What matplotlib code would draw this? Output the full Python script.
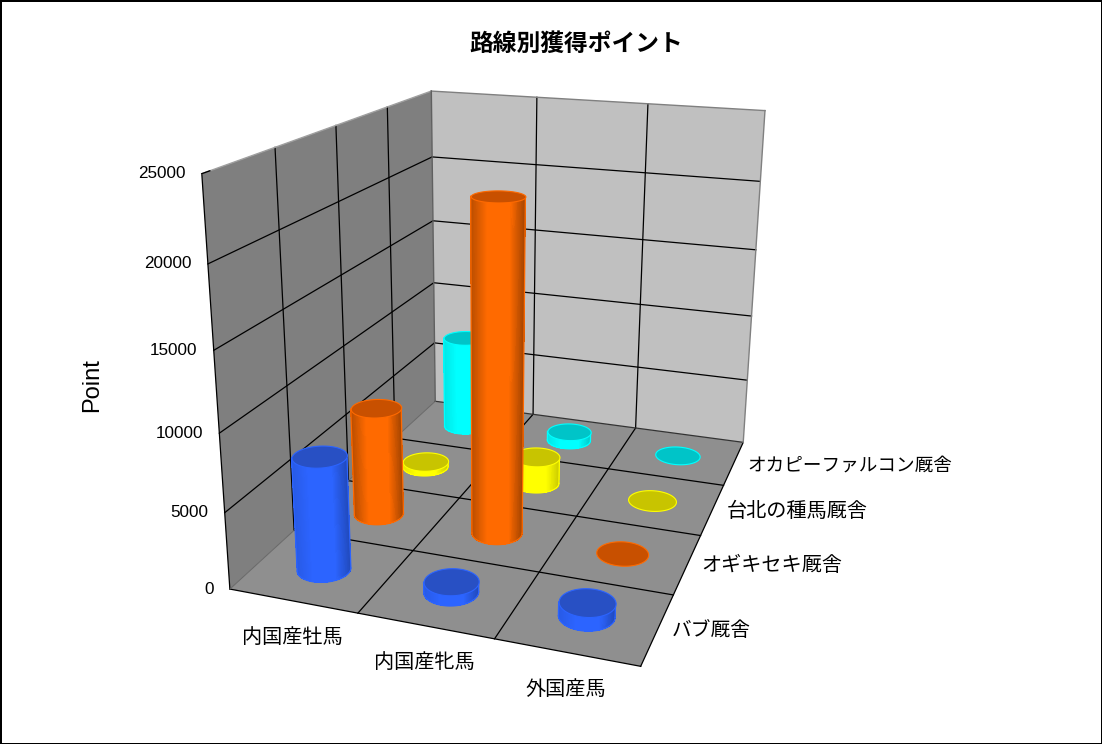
import numpy as np
import matplotlib
matplotlib.use('Agg')
import matplotlib.pyplot as plt
from mpl_toolkits.mplot3d import proj3d
from mpl_toolkits.mplot3d.art3d import Poly3DCollection

jp_font = ['Noto Sans CJK JP', 'DejaVu Sans']

title = '路線別獲得ポイント'
horse_types = ['内国産牡馬', '内国産牝馬', '外国産馬']
stables = ['バブ厩舎', 'オギキセキ厩舎', '台北の種馬厩舎', 'オカピーファルコン厩舎']
stable_sizes = [14.2, 14.5, 14.5, 13.4]
z_ticks = [0, 5000, 10000, 15000, 20000, 25000]

bab = [7500, 700, 900]
ogikiseki = [7550, 22200, 0]
taipei = [400, 2000, 0]
okapi = [7200, 700, 0]
values = [bab, ogikiseki, taipei, okapi]

side_colors = ['#2c64ff', '#ff6a00', '#ffff00', '#00ffff']
top_colors = ['#2850c4', '#c85000', '#c8c400', '#00c4c8']
edge_dark = [(0.9, 0.72), (0.72, 0.62), (0.9, 0.78), (0.9, 0.78)]

W, H = 1102, 744
fig = plt.figure(figsize=(W / 100, H / 100), dpi=100, facecolor='white', edgecolor='black', linewidth=2)
# camera values were fitted to the grid corners of the picture
ax = fig.add_axes([147.49 / W, 41.99 / H, 722.70 / W, 722.70 / H], projection='3d', computed_zorder=False)
ax.patch.set_visible(False)
ax.set_xlim(0, 3, view_margin=0)
ax.set_ylim(0, 4, view_margin=0)
ax.set_zlim(0, 25000, view_margin=0)
ax.view_init(elev=18.4038, azim=-71.4703, roll=-0.4691)
ax.set_proj_type('persp', focal_length=0.3443)
ax.set_box_aspect((1, 1.296, 0.9997))
ax.set_axis_off()
M = ax.get_proj()

zo = 1
for verts, color in [([(0, 0, 0), (0, 4, 0), (0, 4, 25000), (0, 0, 25000)], '#7f7f7f'),
                     ([(0, 4, 0), (3, 4, 0), (3, 4, 25000), (0, 4, 25000)], '#c0c0c0'),
                     ([(0, 0, 0), (3, 0, 0), (3, 4, 0), (0, 4, 0)], '#8f8f8f')]:
    ax.add_collection3d(Poly3DCollection([verts], facecolors=color, edgecolors='none', zorder=zo))
    zo += 1


def gridline(a, b, color='black', lw=0.9):
    ax.plot([a[0], b[0]], [a[1], b[1]], [a[2], b[2]], color=color, lw=lw, zorder=4)


for z in z_ticks[1:-1]:
    gridline((0, 0, z), (0, 4, z))
    gridline((0, 4, z), (3, 4, z))
for i in range(1, 3):
    gridline((i, 0, 0), (i, 4, 0))
    gridline((i, 4, 0), (i, 4, 25000))
for j in range(1, 4):
    gridline((0, j, 0), (3, j, 0))
    gridline((0, j, 0), (0, j, 25000))
gridline((0, 0, 0), (3, 0, 0))
gridline((3, 0, 0), (3, 4, 0))
gridline((0, 0, 0), (0, 0, 25000))
gridline((0, 0, 0), (0, 4, 0), '#666666', 0.7)
gridline((0, 4, 0), (3, 4, 0), '#333333', 0.9)
gridline((0, 0, 25000), (0, 4, 25000), '#a0a0a0', 1.0)
gridline((0, 4, 25000), (3, 4, 25000), '#808080', 1.0)
gridline((3, 4, 0), (3, 4, 25000), '#808080', 1.0)
gridline((0, 4, 0), (0, 4, 25000), '#606060', 1.0)
gridline((0, 0, 25000), (0, 0.1, 25000), 'black', 1.0)

# cylinders, far row first
rx = 0.195
ry = rx * (1 / 3) / (1.296 / 4)
theta = np.linspace(0, 2 * np.pi, 145)[:-1]
zo = 5
for j in reversed(range(4)):
    for i in range(3):
        val = values[j][i]
        X = i + 0.5 + rx * np.cos(theta)
        Y = j + 0.5 + ry * np.sin(theta)
        if val > 0:
            # visible half of the side, between the two screen extremes of the ring
            px, py, _ = proj3d.proj_transform(X, Y, 0 * X, M)
            a, b = px.argmin(), px.argmax()
            idx = np.arange(a, a + (b - a) % len(theta) + 1) % len(theta)
            if py[idx].mean() > py.mean():
                idx = np.arange(b, b + (a - b) % len(theta) + 1) % len(theta)
            xs, ys = X[idx], Y[idx]
            u = (px[idx] - px.min()) / (px.max() - px.min())
            shade = np.interp(u, [0, 0.3, 0.7, 1], [edge_dark[j][0], 1, 1, edge_dark[j][1]])
            fc = np.tile(matplotlib.colors.to_rgba(side_colors[j]), (2, len(idx), 1))
            fc[:, :, :3] *= shade[None, :, None]
            ax.plot_surface(np.vstack([xs, xs]), np.vstack([ys, ys]),
                            np.vstack([np.zeros_like(xs), np.full_like(xs, val)]),
                            facecolors=fc, shade=False, rstride=1, cstride=1,
                            linewidth=0, antialiased=False, zorder=zo)
            zo += 1
            ax.plot(xs, ys, 0 * xs, color=side_colors[j], lw=0.9, zorder=zo)
            ax.plot([xs[0], xs[0]], [ys[0], ys[0]], [0, val], color=side_colors[j], lw=0.9, zorder=zo)
            ax.plot([xs[-1], xs[-1]], [ys[-1], ys[-1]], [0, val], color=side_colors[j], lw=0.9, zorder=zo)
        ax.add_collection3d(Poly3DCollection([list(zip(X, Y, np.full_like(X, val)))],
                                             facecolors=top_colors[j], edgecolors=side_colors[j],
                                             linewidths=0.8, zorder=zo))
        zo += 1


def label(x, y, z, text, dx, dy, **kw):
    px, py, _ = proj3d.proj_transform(x, y, z, M)
    ax.annotate(text, xy=(px, py), xycoords='data', xytext=(dx, dy), textcoords='offset pixels',
                va='center', annotation_clip=False, zorder=500, **kw)


for z in z_ticks:
    label(0, 0, z, str(z), -16, 0, ha='right', family='Liberation Sans', fontsize=12.3)
for i, t in enumerate(horse_types):
    label(i + 0.5, 0, 0, t, -1, -37, ha='center', family=jp_font, fontsize=14.5)
for j, t in enumerate(stables):
    label(3, j + 0.5, 0, t, 14, -2, ha='left', family=jp_font, fontsize=stable_sizes[j])

fig.text(576 / W, 1 - 44 / H, title, ha='center', va='center', family=jp_font, fontsize=17.1, fontweight='bold')
fig.text(92 / W, 1 - 385 / H, 'Point', ha='center', va='center', rotation=90, family='Liberation Sans', fontsize=17)

fig.savefig('out.png', dpi=100)
